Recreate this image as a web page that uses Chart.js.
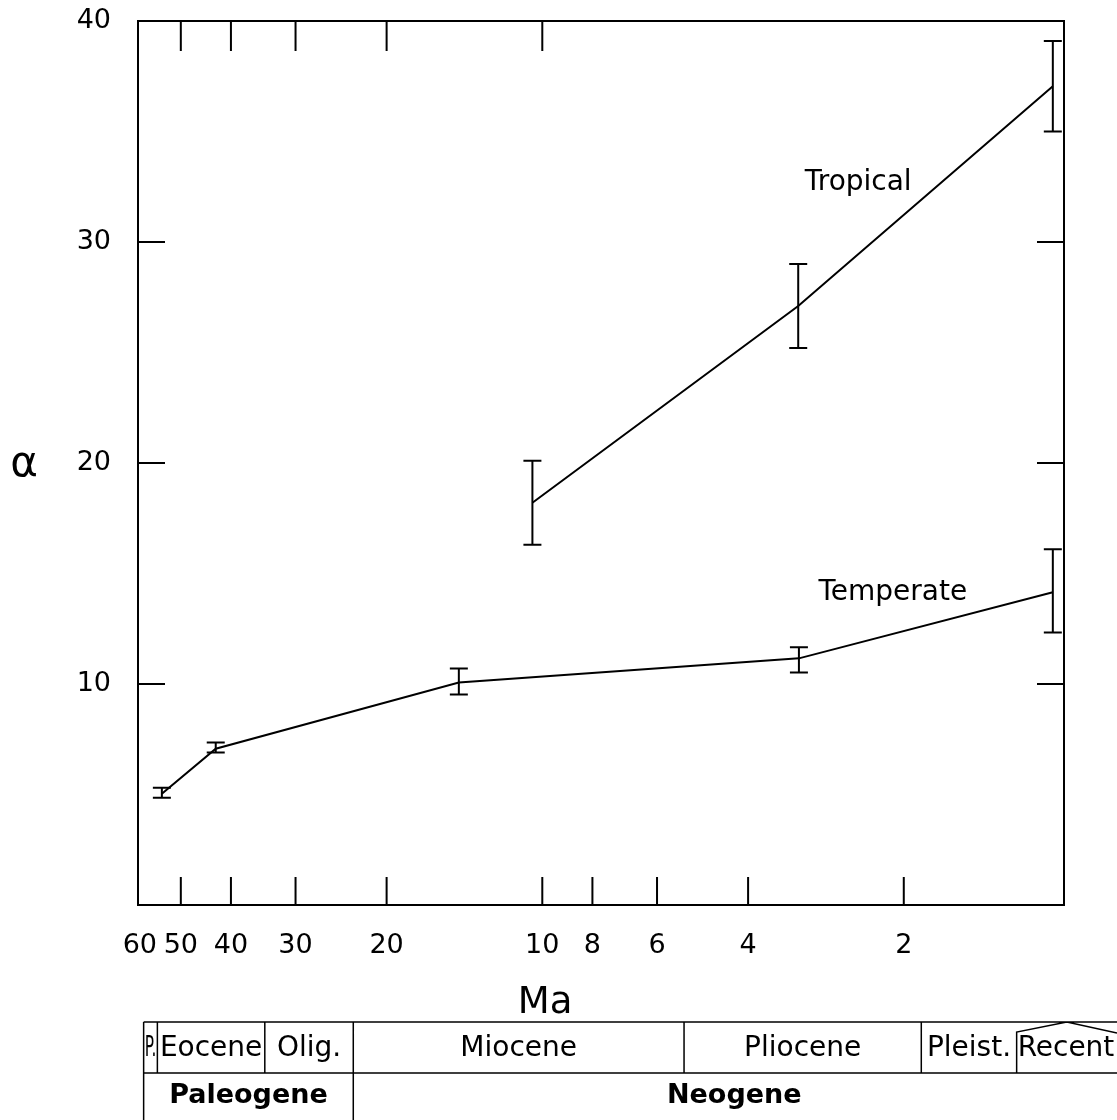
<!DOCTYPE html>
<html>
<head>
<meta charset="utf-8">
<script src="https://cdn.jsdelivr.net/npm/chart.js@4.4.0/dist/chart.umd.min.js"></script>
<style>
body{margin:0;background:#fff;}
#wrap{position:relative;width:1117px;height:1120px;}
</style>
</head>
<body>
<div id="wrap"><canvas id="alphaChart" width="1117" height="1120"></canvas></div>
<script>
// age in Ma, alpha and error bar ends
var temperateAge = [54.4, 42.8, 14.5, 3.19, 1.03]
var temperateAlpha = [5.03, 7.07, 10.07, 11.16, 14.15]
var temperateLow = [4.85, 6.9, 9.52, 10.52, 12.33]
var temperateHigh = [5.3, 7.35, 10.7, 11.66, 16.1]

var tropicalAge = [10.45, 3.2, 1.03]
var tropicalAlpha = [18.2, 27.1, 37.05]
var tropicalLow = [16.3, 25.2, 35.0]
var tropicalHigh = [20.1, 29.0, 39.1]

var xTickValues = [60, 50, 40, 30, 20, 10, 8, 6, 4, 2]
var xTopTickValues = [50, 40, 30, 20, 10]
var yTickValues = [10, 20, 30, 40]

// curve names, placed at (age, alpha)
var seriesNames = ['Temperate', 'Tropical']
var nameAge = [2.1, 2.45]
var nameAlpha = [14.15, 32.7]

// time scale table below the axis (bounds in Ma)
var epochNames = ['P.', 'Eocene', 'Olig.', 'Miocene', 'Pliocene', 'Pleist.', 'Recent']
var epochBounds = [59, 55.5, 34.4, 23.2, 5.32, 1.85, 1.21, 0.78]
var periodNames = ['Paleogene', 'Neogene']
var periodBounds = [59, 23.2, 0.78]

var FONT = "'DejaVu Sans', Lato, sans-serif"
Chart.defaults.font.family = FONT
Chart.defaults.color = '#000'

var errorSets = [
    [temperateAge, temperateLow, temperateHigh],
    [tropicalAge, tropicalLow, tropicalHigh]
]

function toPoints(xs, ys){
    return xs.map((x, i) => ({x: x, y: ys[i]}))
}

var extras = {
    id: 'extras',
    afterDatasetsDraw(chart){
        var ctx = chart.ctx, a = chart.chartArea
        var xs = chart.scales.x, ys = chart.scales.y
        ctx.save()
        ctx.strokeStyle = '#000'
        ctx.lineWidth = 2
        ctx.strokeRect(a.left, a.top, a.right - a.left, a.bottom - a.top)

        // inward ticks
        ctx.beginPath()
        xTickValues.forEach(v => {
            if (v >= 60) return
            var px = xs.getPixelForValue(v)
            ctx.moveTo(px, a.bottom)
            ctx.lineTo(px, a.bottom - 28)
        })
        xTopTickValues.forEach(v => {
            var px = xs.getPixelForValue(v)
            ctx.moveTo(px, a.top)
            ctx.lineTo(px, a.top + 30)
        })
        yTickValues.forEach(v => {
            if (v >= 40) return
            var py = ys.getPixelForValue(v)
            ctx.moveTo(a.left, py)
            ctx.lineTo(a.left + 27, py)
            ctx.moveTo(a.right, py)
            ctx.lineTo(a.right - 27, py)
        })
        ctx.stroke()

        // error bars
        ctx.beginPath()
        errorSets.forEach(set => {
            set[0].forEach((age, i) => {
                var px = xs.getPixelForValue(age)
                var lo = ys.getPixelForValue(set[1][i])
                var hi = ys.getPixelForValue(set[2][i])
                ctx.moveTo(px, lo); ctx.lineTo(px, hi)
                ctx.moveTo(Math.max(a.left, px - 9), lo); ctx.lineTo(Math.min(a.right, px + 9), lo)
                ctx.moveTo(Math.max(a.left, px - 9), hi); ctx.lineTo(Math.min(a.right, px + 9), hi)
            })
        })
        ctx.stroke()

        // curve names
        ctx.fillStyle = '#000'
        ctx.font = '28px ' + FONT
        ctx.textAlign = 'center'
        ctx.textBaseline = 'middle'
        seriesNames.forEach((n, i) => {
            ctx.fillText(n, xs.getPixelForValue(nameAge[i]), ys.getPixelForValue(nameAlpha[i]))
        })

        // axis titles
        ctx.font = '42px ' + FONT
        ctx.textBaseline = 'alphabetic'
        ctx.fillText('α', 24, 476)
        ctx.font = '37px ' + FONT
        ctx.fillText('Ma', 545, 1013)

        // time scale table
        var top = 1022, mid = 1073, bottom = 1130, right = 1117
        ctx.lineWidth = 1.5
        ctx.beginPath()
        ctx.moveTo(xs.getPixelForValue(epochBounds[0]), top); ctx.lineTo(right, top)
        ctx.moveTo(xs.getPixelForValue(epochBounds[0]), mid); ctx.lineTo(right, mid)
        for (var i = 0; i < epochBounds.length - 2; i++){
            var px = xs.getPixelForValue(epochBounds[i])
            ctx.moveTo(px, top); ctx.lineTo(px, i === 0 || epochBounds[i] === periodBounds[1] ? bottom : mid)
        }
        // Recent cell with its roof
        var rl = xs.getPixelForValue(epochBounds[6])
        var apex = (rl + right) / 2
        ctx.moveTo(rl, mid); ctx.lineTo(rl, top + 10)
        ctx.lineTo(apex, top); ctx.lineTo(right, top + 11)
        ctx.stroke()

        ctx.font = '28px ' + FONT
        ctx.textBaseline = 'alphabetic'
        epochNames.forEach((n, i) => {
            var x0 = xs.getPixelForValue(epochBounds[i])
            var x1 = Math.min(right, xs.getPixelForValue(epochBounds[i + 1]))
            ctx.fillText(n, (x0 + x1) / 2, 1056, x1 - x0 - 2)
        })
        ctx.font = 'bold 27px ' + FONT
        periodNames.forEach((n, i) => {
            var x0 = xs.getPixelForValue(periodBounds[i])
            var x1 = Math.min(right, xs.getPixelForValue(periodBounds[i + 1]))
            ctx.fillText(n, (x0 + x1) / 2, 1103)
        })
        ctx.restore()
    }
}

var chartAlpha = new Chart(document.getElementById('alphaChart').getContext('2d'), {
    type: 'line',
    data: {
        datasets: [{
            label: 'Temperate',
            data: toPoints(temperateAge, temperateAlpha),
            borderColor: '#000',
            borderWidth: 2,
            pointRadius: 0,
            tension: 0
        }, {
            label: 'Tropical',
            data: toPoints(tropicalAge, tropicalAlpha),
            borderColor: '#000',
            borderWidth: 2,
            pointRadius: 0,
            tension: 0
        }]
    },
    options: {
        responsive: false,
        animation: false,
        layout: {
            padding: {left: 0, top: 21, right: 53, bottom: 0}
        },
        plugins: {
            legend: {display: false},
            tooltip: {enabled: false}
        },
        scales: {
            x: {
                type: 'logarithmic',
                reverse: true,
                min: 0.98,
                max: 60.5,
                grid: {display: false, drawTicks: false},
                border: {display: false},
                afterBuildTicks: s => { s.ticks = xTickValues.map(v => ({value: v})) },
                afterFit: s => { s.height = 215; s.paddingLeft = 0; s.paddingRight = 0 },
                ticks: {
                    autoSkip: false,
                    maxRotation: 0,
                    padding: 25,
                    font: {size: 27},
                    callback: v => String(v)
                }
            },
            y: {
                min: 0,
                max: 40,
                grid: {display: false, drawTicks: false},
                border: {display: false},
                afterBuildTicks: s => { s.ticks = yTickValues.map(v => ({value: v})) },
                afterFit: s => { s.width = 138; s.paddingTop = 0; s.paddingBottom = 0 },
                ticks: {
                    padding: 27,
                    font: {size: 27},
                    callback: v => String(v)
                }
            }
        }
    },
    plugins: [extras]
})
</script>
</body>
</html>
